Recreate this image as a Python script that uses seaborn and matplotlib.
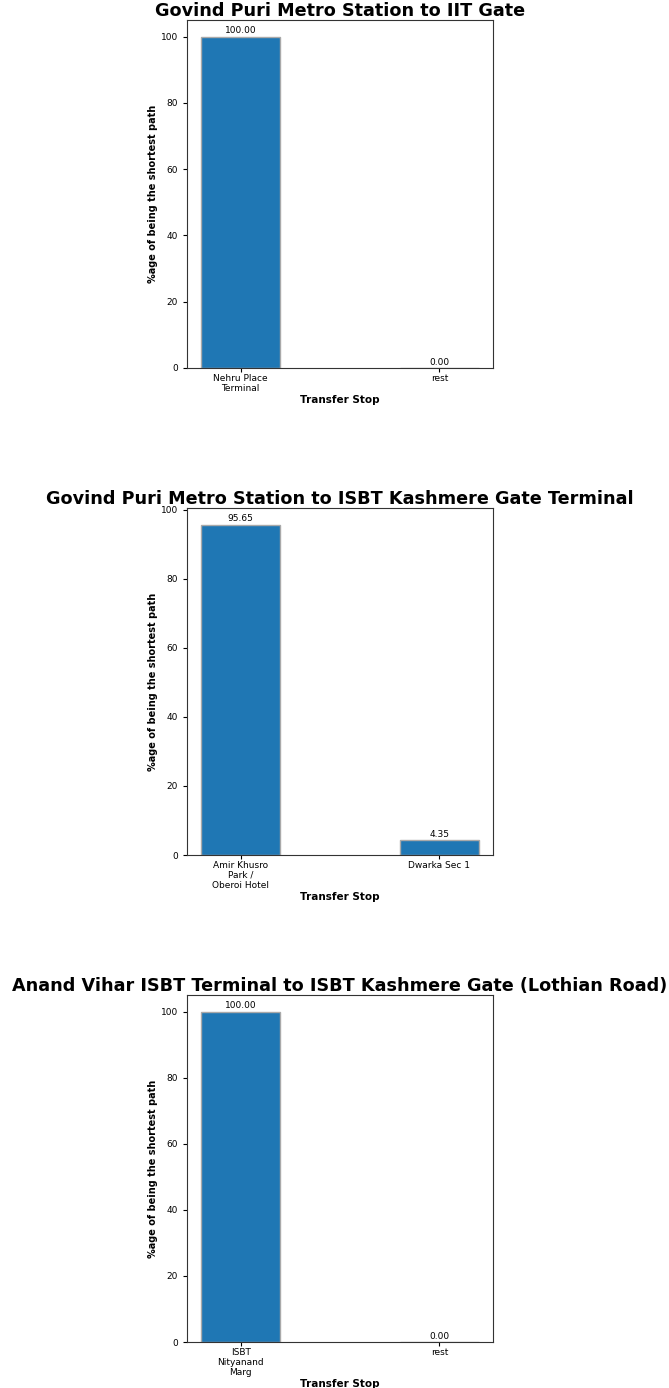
import textwrap
import pandas as pd
import matplotlib
matplotlib.use("Agg")
import matplotlib.pyplot as plt
import seaborn as sns

# -------------------------------
# Data
# -------------------------------
titles = [
    "Govind Puri Metro Station to IIT Gate",
    "Govind Puri Metro Station to ISBT Kashmere Gate Terminal",
    "Anand Vihar ISBT Terminal to ISBT Kashmere Gate (Lothian Road)",
]
stops_1 = ["Nehru Place Terminal", "rest"]
pct_1 = [100.00, 0.00]
stops_2 = ["Amir Khusro Park / Oberoi Hotel", "Dwarka Sec 1"]
pct_2 = [95.65, 4.35]
stops_3 = ["ISBT Nityanand Marg", "rest"]
pct_3 = [100.00, 0.00]

all_stops = [stops_1, stops_2, stops_3]
all_pct = [pct_1, pct_2, pct_3]

# -------------------------------
# Plot
# -------------------------------
sns.set_style("ticks")
plt.rcParams["font.family"] = ["DejaVu Sans"]
plt.rcParams["text.color"] = "black"
plt.rcParams["axes.labelcolor"] = "black"
plt.rcParams["xtick.color"] = "black"
plt.rcParams["ytick.color"] = "black"

fig = plt.figure(figsize=(6.69, 13.88), dpi=100)
positions = [
    [0.2795, 0.7349, 0.4574, 0.2507],
    [0.2795, 0.3840, 0.4574, 0.2500],
    [0.2795, 0.0331, 0.4574, 0.2500],
]

for pos, title, stops, pct in zip(positions, titles, all_stops, all_pct):
    ax = fig.add_axes(pos)
    df = pd.DataFrame({"stop": [textwrap.fill(s, 12) for s in stops], "pct": pct})
    sns.barplot(data=df, x="stop", y="pct", ax=ax, color="#1f77b4",
                saturation=1, width=0.4, edgecolor="darkgrey", linewidth=1)
    ax.bar_label(ax.containers[0], fmt="%.2f", fontsize=6.5, padding=1)
    ax.set_xlim(-0.27, 1.27)
    ax.set_ylim(0, max(pct) * 1.05)
    ax.set_title(title, fontsize=12.7, fontweight="bold", pad=3, color="black")
    ax.set_xlabel("Transfer Stop", fontsize=7.5, fontweight="bold", labelpad=1.5)
    ax.set_ylabel("%age of being the shortest path", fontsize=7, fontweight="bold", labelpad=2)
    ax.tick_params(labelsize=6.5, length=3)
    ax.tick_params(axis="x", pad=1.5)
    for lbl in ax.get_xticklabels():
        lbl.set_linespacing(1.1)
    for s in ax.spines.values():
        s.set_visible(True)
        s.set_color("#333333")
        s.set_linewidth(0.8)

fig.savefig("out.png", dpi=100)
